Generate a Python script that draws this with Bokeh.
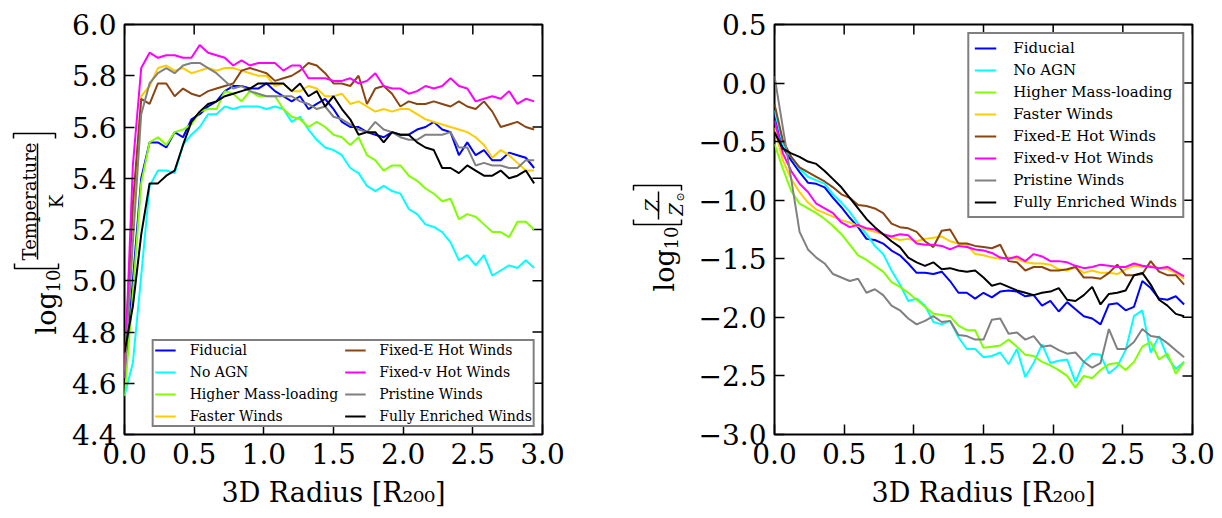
from math import pi
from bokeh.plotting import figure
from bokeh.models import (Range1d, FixedTicker, Legend, LegendItem, CustomJSTickFormatter)
from bokeh.core.properties import value
from bokeh.layouts import row
from bokeh.embed import file_html
from bokeh.resources import INLINE

# ---------------- data ----------------
radius = [0.00, 0.06, 0.12, 0.18, 0.24, 0.30, 0.36, 0.42, 0.48, 0.54,
          0.60, 0.66, 0.72, 0.78, 0.84, 0.90, 0.96, 1.02, 1.08, 1.14,
          1.20, 1.26, 1.32, 1.38, 1.44, 1.50, 1.56, 1.62, 1.68, 1.74,
          1.80, 1.86, 1.92, 1.98, 2.04, 2.10, 2.16, 2.22, 2.28, 2.34,
          2.40, 2.46, 2.52, 2.58, 2.64, 2.70, 2.76, 2.82, 2.88, 2.94]

temp_fiducial = [4.62, 5.00, 5.40, 5.54, 5.54, 5.52, 5.58, 5.56, 5.63, 5.65,
                 5.68, 5.70, 5.74, 5.76, 5.76, 5.75, 5.75, 5.77, 5.74, 5.72,
                 5.70, 5.72, 5.67, 5.69, 5.71, 5.67, 5.62, 5.60, 5.60, 5.58,
                 5.57, 5.56, 5.58, 5.57, 5.57, 5.59, 5.60, 5.62, 5.59, 5.58,
                 5.49, 5.54, 5.49, 5.51, 5.47, 5.47, 5.50, 5.49, 5.48, 5.44]
temp_no_agn = [4.55, 4.68, 5.02, 5.37, 5.43, 5.43, 5.42, 5.53, 5.57, 5.60,
               5.65, 5.65, 5.68, 5.67, 5.68, 5.68, 5.68, 5.67, 5.68, 5.67,
               5.62, 5.64, 5.59, 5.55, 5.52, 5.51, 5.49, 5.44, 5.42, 5.37,
               5.35, 5.37, 5.35, 5.34, 5.28, 5.26, 5.22, 5.21, 5.19, 5.15,
               5.08, 5.10, 5.06, 5.10, 5.02, 5.04, 5.06, 5.05, 5.08, 5.05]
temp_mass_loading = [4.55, 4.95, 5.38, 5.54, 5.56, 5.53, 5.58, 5.59, 5.61, 5.66,
                     5.67, 5.67, 5.74, 5.73, 5.70, 5.74, 5.72, 5.72, 5.72, 5.67,
                     5.64, 5.63, 5.60, 5.62, 5.60, 5.57, 5.56, 5.53, 5.56, 5.49,
                     5.47, 5.43, 5.45, 5.45, 5.41, 5.39, 5.36, 5.34, 5.31, 5.32,
                     5.24, 5.26, 5.25, 5.22, 5.19, 5.19, 5.17, 5.23, 5.23, 5.20]
temp_faster = [4.65, 5.25, 5.72, 5.76, 5.83, 5.84, 5.82, 5.83, 5.81, 5.82,
               5.83, 5.82, 5.83, 5.83, 5.82, 5.81, 5.80, 5.80, 5.76, 5.77,
               5.74, 5.74, 5.76, 5.75, 5.72, 5.72, 5.73, 5.69, 5.70, 5.68,
               5.66, 5.67, 5.66, 5.67, 5.67, 5.65, 5.63, 5.62, 5.61, 5.60,
               5.59, 5.58, 5.56, 5.53, 5.48, 5.51, 5.49, 5.46, 5.43, 5.43]
temp_fixed_e = [4.68, 5.30, 5.71, 5.69, 5.77, 5.77, 5.72, 5.75, 5.73, 5.72,
                5.74, 5.75, 5.76, 5.77, 5.82, 5.83, 5.82, 5.81, 5.78, 5.79,
                5.80, 5.82, 5.85, 5.84, 5.81, 5.77, 5.77, 5.76, 5.80, 5.69,
                5.75, 5.76, 5.73, 5.68, 5.70, 5.69, 5.69, 5.70, 5.69, 5.68,
                5.70, 5.68, 5.67, 5.70, 5.66, 5.60, 5.61, 5.62, 5.60, 5.59]
temp_fixed_v = [4.62, 5.45, 5.83, 5.89, 5.87, 5.88, 5.88, 5.87, 5.87, 5.92,
                5.89, 5.88, 5.87, 5.84, 5.86, 5.84, 5.85, 5.85, 5.85, 5.82,
                5.84, 5.84, 5.79, 5.79, 5.79, 5.78, 5.78, 5.79, 5.77, 5.78,
                5.81, 5.76, 5.75, 5.75, 5.73, 5.74, 5.76, 5.75, 5.76, 5.79,
                5.76, 5.75, 5.70, 5.71, 5.72, 5.71, 5.74, 5.69, 5.71, 5.70]
temp_pristine = [4.62, 5.15, 5.65, 5.77, 5.81, 5.83, 5.81, 5.84, 5.85, 5.85,
                 5.83, 5.81, 5.78, 5.75, 5.76, 5.74, 5.73, 5.72, 5.72, 5.72,
                 5.72, 5.70, 5.69, 5.67, 5.68, 5.64, 5.63, 5.61, 5.59, 5.58,
                 5.62, 5.59, 5.58, 5.56, 5.55, 5.55, 5.57, 5.57, 5.57, 5.58,
                 5.52, 5.52, 5.45, 5.46, 5.45, 5.45, 5.44, 5.44, 5.47, 5.47]
temp_enriched = [4.72, 4.90, 5.18, 5.38, 5.38, 5.41, 5.43, 5.53, 5.62, 5.66,
                 5.69, 5.70, 5.72, 5.73, 5.74, 5.75, 5.77, 5.77, 5.77, 5.77,
                 5.74, 5.77, 5.72, 5.74, 5.68, 5.72, 5.67, 5.63, 5.57, 5.58,
                 5.58, 5.54, 5.58, 5.57, 5.57, 5.54, 5.52, 5.51, 5.44, 5.44,
                 5.42, 5.45, 5.43, 5.41, 5.41, 5.43, 5.40, 5.41, 5.43, 5.38]

metal_fiducial = [-0.26, -0.55, -0.66, -0.76, -0.85, -0.86, -0.89, -0.98, -1.06, -1.15,
                  -1.23, -1.33, -1.34, -1.37, -1.43, -1.47, -1.54, -1.62, -1.62, -1.63,
                  -1.61, -1.69, -1.79, -1.79, -1.84, -1.79, -1.83, -1.78, -1.77, -1.78,
                  -1.82, -1.81, -1.90, -1.86, -1.95, -1.87, -1.93, -1.99, -2.01, -2.06,
                  -1.89, -1.88, -1.94, -1.91, -1.69, -1.75, -1.84, -1.85, -1.82, -1.89]
metal_no_agn = [-0.23, -0.52, -0.63, -0.73, -0.80, -0.83, -0.86, -0.95, -1.02, -1.10,
                -1.20, -1.29, -1.39, -1.46, -1.60, -1.72, -1.86, -1.84, -1.90, -2.04,
                -2.06, -2.03, -2.17, -2.27, -2.27, -2.34, -2.33, -2.30, -2.40, -2.27,
                -2.51, -2.39, -2.23, -2.39, -2.37, -2.36, -2.55, -2.38, -2.31, -2.32,
                -2.48, -2.42, -2.28, -1.99, -1.94, -2.30, -2.16, -2.34, -2.44, -2.38]
metal_mass_loading = [-0.52, -0.73, -0.92, -1.03, -1.07, -1.11, -1.16, -1.22, -1.29, -1.38,
                      -1.47, -1.51, -1.56, -1.61, -1.70, -1.74, -1.79, -1.85, -1.91, -1.97,
                      -1.98, -1.99, -2.07, -2.11, -2.11, -2.26, -2.25, -2.24, -2.19, -2.25,
                      -2.32, -2.33, -2.38, -2.41, -2.45, -2.50, -2.60, -2.50, -2.52, -2.45,
                      -2.40, -2.39, -2.45, -2.38, -2.25, -2.21, -2.36, -2.31, -2.48, -2.38]
metal_faster = [-0.38, -0.66, -0.82, -0.93, -1.02, -1.08, -1.11, -1.14, -1.17, -1.19,
                -1.22, -1.25, -1.27, -1.29, -1.32, -1.34, -1.33, -1.35, -1.33, -1.32,
                -1.31, -1.35, -1.37, -1.38, -1.46, -1.47, -1.49, -1.50, -1.49, -1.50,
                -1.53, -1.54, -1.54, -1.55, -1.59, -1.60, -1.57, -1.62, -1.60, -1.62,
                -1.62, -1.63, -1.59, -1.56, -1.57, -1.56, -1.58, -1.59, -1.62, -1.67]
metal_fixed_e = [-0.18, -0.49, -0.63, -0.72, -0.76, -0.80, -0.84, -0.89, -0.95, -0.98,
                 -1.04, -1.05, -1.07, -1.11, -1.20, -1.23, -1.24, -1.27, -1.35, -1.40,
                 -1.26, -1.25, -1.37, -1.37, -1.39, -1.40, -1.41, -1.38, -1.52, -1.53,
                 -1.60, -1.57, -1.57, -1.60, -1.60, -1.59, -1.57, -1.66, -1.66, -1.67,
                 -1.62, -1.55, -1.64, -1.64, -1.63, -1.52, -1.61, -1.64, -1.64, -1.72]
metal_fixed_v = [-0.32, -0.60, -0.75, -0.86, -0.93, -1.03, -1.07, -1.11, -1.19, -1.23,
                 -1.21, -1.24, -1.25, -1.29, -1.31, -1.29, -1.30, -1.37, -1.38, -1.38,
                 -1.39, -1.42, -1.39, -1.40, -1.42, -1.43, -1.45, -1.49, -1.50, -1.48,
                 -1.52, -1.46, -1.48, -1.52, -1.52, -1.53, -1.56, -1.58, -1.57, -1.55,
                 -1.56, -1.57, -1.57, -1.54, -1.56, -1.57, -1.58, -1.57, -1.61, -1.65]
metal_pristine = [0.06, -0.38, -0.82, -1.27, -1.42, -1.49, -1.54, -1.63, -1.66, -1.69,
                  -1.67, -1.79, -1.76, -1.81, -1.90, -1.94, -2.01, -2.06, -2.03, -1.99,
                  -2.04, -2.03, -2.15, -2.16, -2.19, -2.19, -2.02, -2.01, -2.14, -2.13,
                  -2.19, -2.16, -2.25, -2.24, -2.28, -2.31, -2.30, -2.38, -2.43, -2.39,
                  -2.10, -2.27, -2.27, -2.21, -2.10, -2.16, -2.17, -2.22, -2.28, -2.34]
metal_enriched = [-0.42, -0.56, -0.60, -0.63, -0.67, -0.69, -0.75, -0.82, -0.89, -0.98,
                  -1.07, -1.16, -1.23, -1.29, -1.35, -1.40, -1.49, -1.53, -1.56, -1.53,
                  -1.59, -1.58, -1.60, -1.61, -1.60, -1.66, -1.73, -1.71, -1.74, -1.77,
                  -1.79, -1.81, -1.79, -1.78, -1.75, -1.85, -1.86, -1.81, -1.74, -1.89,
                  -1.80, -1.79, -1.77, -1.64, -1.62, -1.72, -1.85, -1.90, -1.97, -1.99]

series_names = ["Fiducial", "No AGN", "Higher Mass-loading", "Faster Winds",
                "Fixed-E Hot Winds", "Fixed-v Hot Winds", "Pristine Winds",
                "Fully Enriched Winds"]
series_colors = ["#0000ff", "#00ffff", "#7fff00", "#ffcc00",
                 "#8b4513", "#ff00ff", "#808080", "#000000"]
temp_series = [temp_fiducial, temp_no_agn, temp_mass_loading, temp_faster,
               temp_fixed_e, temp_fixed_v, temp_pristine, temp_enriched]
metal_series = [metal_fiducial, metal_no_agn, metal_mass_loading, metal_faster,
                metal_fixed_e, metal_fixed_v, metal_pristine, metal_enriched]

x_ticks = [0.0, 0.5, 1.0, 1.5, 2.0, 2.5, 3.0]
temp_ticks = [4.4, 4.6, 4.8, 5.0, 5.2, 5.4, 5.6, 5.8, 6.0]
metal_ticks = [-3.0, -2.5, -2.0, -1.5, -1.0, -0.5, 0.0, 0.5]

# ---------------- styling ----------------
FONT = "DejaVu Serif"
H = 518
TOP, BOTTOM_PAD = 24, 84
TICK_CODE = "return (tick < -1e-9 ? '\u2212' : '') + Math.abs(tick).toFixed(1);"

# page layout: [label strip 1][panel 1][label strip 2][panel 2]
LAB1_W, P1_W = 66, 545
LAB2_W, P2_W = 80, 531
P1_BORDER_L, P1_BORDER_R = 58, 69
P2_BORDER_L, P2_BORDER_R = 83, 30


def style_axis(ax, ticks):
    ax.ticker = FixedTicker(ticks=ticks)
    ax.axis_line_color = None
    ax.major_tick_in = 10
    ax.major_tick_out = 0
    ax.major_tick_line_width = 1.5
    ax.major_tick_line_color = "black"
    ax.minor_tick_line_color = None
    ax.formatter = CustomJSTickFormatter(code=TICK_CODE)
    ax.major_label_text_font = FONT
    ax.major_label_text_font_size = "28px"
    ax.major_label_text_color = "black"
    ax.major_label_standoff = 8


def make_panel(width, ylo, yhi, yticks, series, border_left, border_right):
    p = figure(width=width, height=H, x_range=Range1d(0, 3), y_range=Range1d(ylo, yhi),
               output_backend="svg", toolbar_location=None,
               min_border_left=border_left, min_border_right=border_right,
               min_border_top=TOP, min_border_bottom=BOTTOM_PAD)
    p.xgrid.visible = False
    p.ygrid.visible = False
    p.outline_line_color = "black"
    p.outline_line_width = 2
    p.outline_line_alpha = 1
    p.background_fill_color = "white"
    p.border_fill_color = "white"
    xa = p.below[0]
    ya = p.left[0]
    style_axis(xa, x_ticks)
    style_axis(ya, yticks)
    xa.axis_label = "3D Radius [R\u2082\u2080\u2080]"
    xa.axis_label_text_font = FONT
    xa.axis_label_text_font_size = "27px"
    xa.axis_label_text_font_style = "normal"
    xa.axis_label_text_color = "black"
    xa.axis_label_standoff = 10
    # inward ticks on the top and right spines
    p.scatter(x=x_ticks, y=[yhi] * len(x_ticks), marker="dash", angle=pi / 2,
              size=20, line_color="black", line_width=1.5)
    p.scatter(x=[3.0] * len(yticks), y=yticks, marker="dash", angle=0,
              size=20, line_color="black", line_width=1.5)
    rends = []
    for vals, col in zip(series, series_colors):
        rends.append(p.line(radius, vals, line_color=col, line_width=2))
    return p, rends


def legend_for(rends, ncols, location, margin, padding, size, glyph_w, standoff, spacing):
    items = [LegendItem(label=n, renderers=[r]) for n, r in zip(series_names, rends)]
    return Legend(items=items, ncols=ncols, location=location, margin=margin,
                  padding=padding, spacing=spacing, label_height=16, glyph_height=16,
                  glyph_width=glyph_w, label_standoff=standoff,
                  label_text_font=FONT, label_text_font_size=f"{size}px",
                  label_text_color="black",
                  border_line_color="black", border_line_width=2,
                  background_fill_color="white", background_fill_alpha=1)


def label_strip(width):
    # the strip's frame is kept at the same page rows as the panels' frames,
    # and its ranges are in page pixels (y measured upward from the page bottom)
    s = figure(width=width, height=H, x_range=Range1d(0, width),
               y_range=Range1d(H - (H - BOTTOM_PAD), H - TOP),
               output_backend="svg", toolbar_location=None,
               min_border_left=0, min_border_right=0,
               min_border_top=TOP, min_border_bottom=BOTTOM_PAD,
               x_axis_location=None, y_axis_location=None)
    s.xgrid.visible = False
    s.ygrid.visible = False
    s.outline_line_color = None
    s.background_fill_color = "white"
    s.border_fill_color = "white"
    return s


def vtext(s, x0, text, px, py, size, align="left", style="normal"):
    s.text(x=[px - x0], y=[H - py], text=[text], angle=pi / 2,
           text_align=align, text_baseline="alphabetic", text_font=value(FONT),
           text_font_size=value(f"{size}px"), text_font_style=style,
           text_color="black")


def vpath(s, x0, pts):
    s.line(x=[a - x0 for a, _ in pts], y=[H - b for _, b in pts],
           line_color="black", line_width=1.5)


# ---------------- left panel: temperature ----------------
s1 = label_strip(LAB1_W)
X1 = 0
vtext(s1, X1, "log", 46, 334, 27)
vtext(s1, X1, "10", 52, 292, 18)
vpath(s1, X1, [(14, 263), (14, 268), (58, 268), (58, 263)])
vtext(s1, X1, "Temperature", 29, 201, 18, align="center")
vpath(s1, X1, [(37, 143), (37, 259)])
vtext(s1, X1, "K", 56, 201, 18, align="center")
vpath(s1, X1, [(13, 138), (13, 133), (55, 133), (55, 138)])

p1, r1 = make_panel(P1_W, 4.4, 6.0, temp_ticks, temp_series, P1_BORDER_L, P1_BORDER_R)
p1.add_layout(legend_for(r1, 2, "bottom_right", 7, 1, 14, 21, 14, 6))

# ---------------- right panel: metallicity ----------------
s2 = label_strip(LAB2_W)
X2 = LAB1_W + P1_W
vtext(s2, X2, "log", 664, 291, 27)
vtext(s2, X2, "10", 670, 249, 18)
vpath(s2, X2, [(633, 219), (633, 224), (681, 224), (681, 219)])
vtext(s2, X2, "Z", 652, 205, 18, align="center", style="italic")
vpath(s2, X2, [(658, 191), (658, 219)])
vtext(s2, X2, "Z", 676, 209, 18, align="center", style="italic")
vtext(s2, X2, "\u2299", 680, 201, 11)
vpath(s2, X2, [(633, 190), (633, 185), (681, 185), (681, 190)])

p2, r2 = make_panel(P2_W, -3.0, 0.5, metal_ticks, metal_series, P2_BORDER_L, P2_BORDER_R)
p2.add_layout(legend_for(r2, 1, "top_right", 8, 5, 15, 22, 17, 4))

layout = row(s1, p1, s2, p2)
with open("out.html", "w") as f:
    f.write(file_html(layout, INLINE))
